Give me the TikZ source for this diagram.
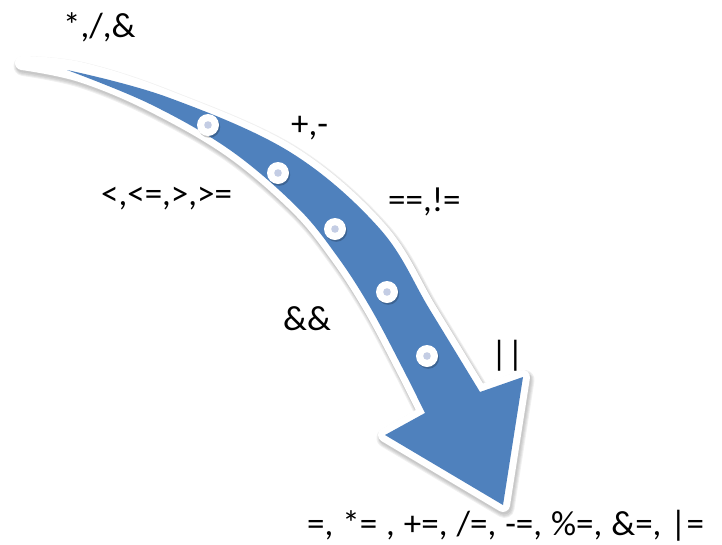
\documentclass[tikz,border=0pt]{standalone}
\usepackage{fontspec}
\setmainfont{Carlito}
\definecolor{arrowblue}{RGB}{79,129,189}
\definecolor{dotcore}{RGB}{196,205,228}
\begin{document}
\begin{tikzpicture}[x=1pt,y=-1pt,
  lbl/.style={inner sep=0pt, anchor=base west, font=\fontsize{35}{40}\selectfont, text=black},
  dotnode/.style={circle, fill=white, minimum size=22pt, inner sep=0pt,
    preaction={fill=black, opacity=.22, transform canvas={xshift=1.2pt, yshift=-1.8pt}}},
  outline/.style={fill=white, draw=white, line width=14pt, line join=round},
  shade/.style={fill=black, draw=black, opacity=.06, line join=round}]
\useasboundingbox (0,0) rectangle (722,544);
\def\upperedge{(167,97) (290,152) (380,229) (430,310) (480,392)}
\def\loweredge{(425,413) (402,367) (370,307) (337,256) (297,207) (230,150) (150,104)}
\def\arrowoutline{plot[smooth, tension=0.6] coordinates {(22,63) (80,69) \upperedge}
  -- (523,377) -- (503,505) -- (385,435) -- (425,413)
  -- plot[smooth, tension=0.6] coordinates {\loweredge (80,75) (22,63)} -- cycle}
% soft shadow of the outline
\foreach \w/\dx/\dy in {20/1.5/-3, 18/1.5/-3, 16/1.5/-3, 15/1/-2} {
  \begin{scope}[transform canvas={xshift=\dx pt, yshift=\dy pt}]
    \path[shade, line width=\w pt] \arrowoutline;
  \end{scope}
}
% white outline
\path[outline] \arrowoutline;
% blue arrow
\fill[arrowblue] plot[smooth, tension=0.6] coordinates {(67,70) \upperedge}
  -- (523,377) -- (503,505) -- (385,435) -- (425,413)
  -- plot[smooth, tension=0.6] coordinates {\loweredge (67,70)} -- cycle;
% dots
\node[dotnode] (d1) at (208,125) {};
\node[dotnode] (d2) at (278,173) {};
\node[dotnode] (d3) at (335,229) {};
\node[dotnode] (d4) at (387,292) {};
\node[dotnode] (d5) at (427,356) {};
\foreach \d in {d1,d2,d3,d4,d5} \fill[dotcore] (\d) circle (3.8pt);
% labels
\node[lbl] (mul) at (63,37) {*,/,\&};
\node[lbl] (add) at (291,135) {+,-};
\node[lbl] (rel) at (101,205) {<,<=,>,>=};
\node[lbl] (eq) at (388,211) {==,!=};
\node[lbl] (and) at (283,330) {\&\&};
\node[lbl] (or) at (491,365) {||};
\node[lbl] (asg) at (307,535) {\spaceskip=9pt\relax =, *= , +=, /=, -=, \%=, \&=, |=};
\end{tikzpicture}
\end{document}
